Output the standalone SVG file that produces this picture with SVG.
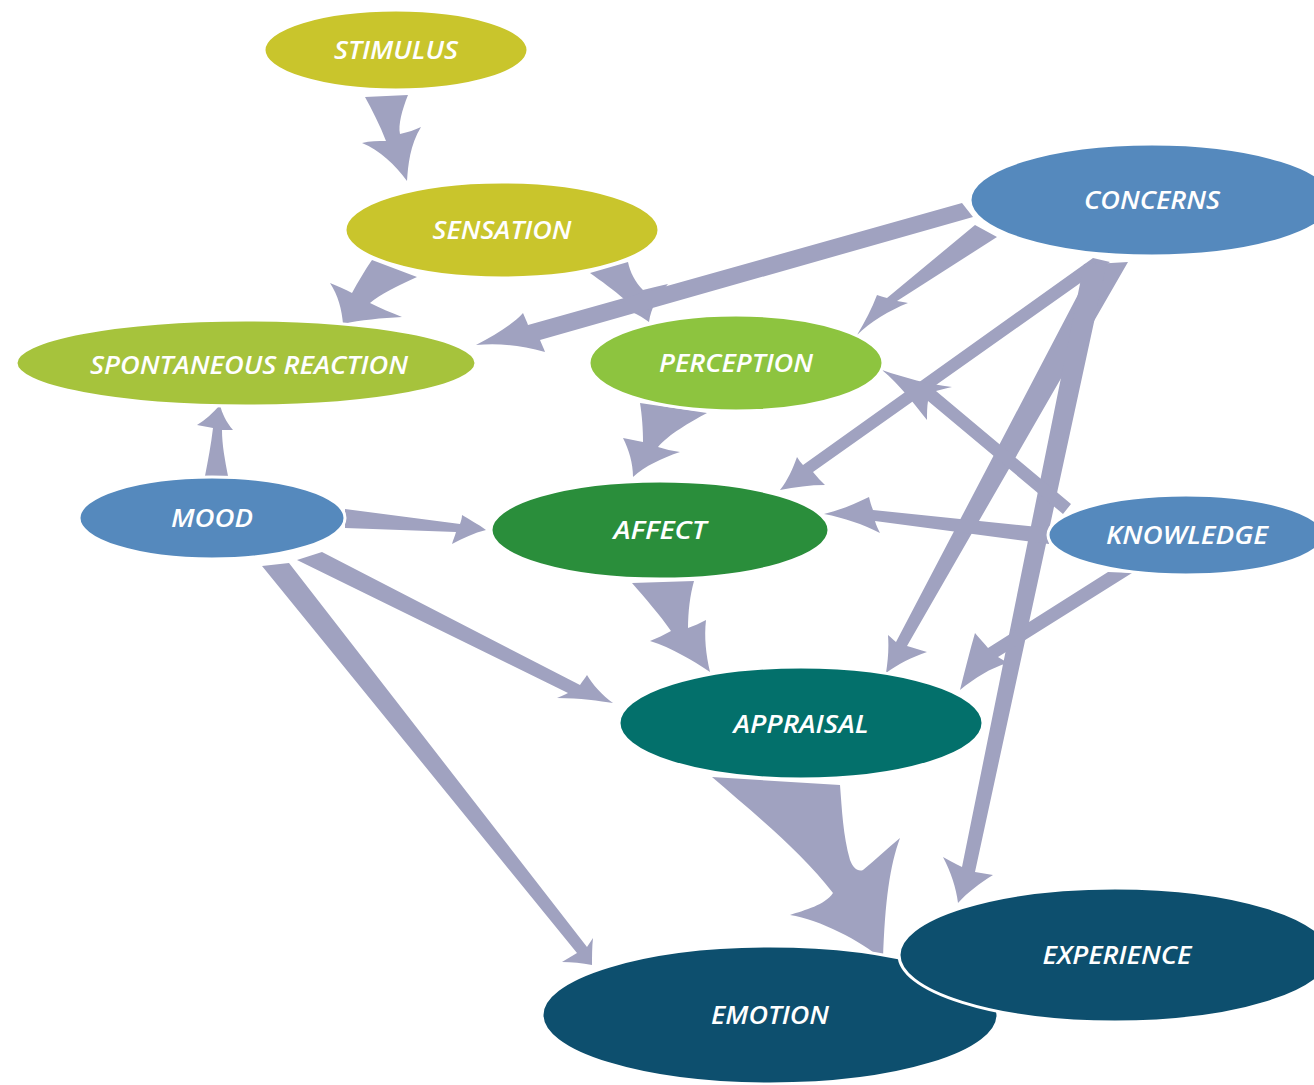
<svg xmlns="http://www.w3.org/2000/svg" width="1314" height="1085" viewBox="0 0 1314 1085">
<style>
.a{fill:#a0a2c0;stroke:none}
.n{stroke:#ffffff;stroke-width:3}
.t{fill:#ffffff;font-family:"Open Sans","Liberation Sans",sans-serif;font-style:italic;font-weight:600;font-size:26px;text-anchor:middle}
.y{fill:#c9c52c}.g1{fill:#a6c33c}.g2{fill:#8dc43f}.b{fill:#5589bd}.g3{fill:#2a8e3b}.tl{fill:#03706b}.d{fill:#0d4f6e}
</style>
<rect width="1314" height="1085" fill="#ffffff"/>
<g id="connectors">
<path class="a" d="M365,97 L408,95 C402,110 398,125 400,134 C408,132 415,130 421,127 C410,145 408,165 407,181 C395,165 380,150 362,143 C370,141 378,141 386,141 C380,125 372,110 365,97 Z"/>
<path class="a" d="M372,260 L417,277 C398,286 380,294 370,303 C380,308 392,313 402,317 C382,318 360,320 343,324 C342,310 338,295 330,283 C338,286 346,290 352,293 C358,282 365,270 372,260 Z"/>
<path class="a" d="M590,273 L628,262 C630,272 635,282 643,290 C651,288 659,286 668,284 C658,295 651,308 649,322 C640,315 625,308 610,305 C614,303 619,301 624,299 C614,290 601,281 590,273 Z"/>
<path class="a" d="M962,203 L973,217 L540,340 C542,345 544,349 545,352 C520,345 498,343 476,345 C495,335 512,325 523,313 C525,318 527,322 528,325 Z"/>
<path class="a" d="M975,225 L997,237 L897,301 C901,302 905,302 908,303 C890,310 870,322 857,335 C865,322 872,308 877,295 C880,296 883,297 887,298 Z"/>
<path class="a" d="M1093,258 L1110,262 L813,472 C817,477 821,481 825,485 C810,485 795,487 780,490 C788,480 793,468 797,457 C799,460 801,463 803,465 Z"/>
<path class="a" d="M1094,264 L1128,262 L907,646 C914,648 920,650 927,652 C912,657 898,664 886,673 C888,660 889,648 888,635 C891,637 893,640 896,642 Z"/>
<path class="a" d="M1084,264 L1107,262 L975,872 C981,873 987,874 993,875 C980,883 968,892 958,903 C956,888 951,872 943,857 C949,860 955,864 962,867 Z"/>
<path class="a" d="M882,370 C905,378 928,384 952,387 C946,388 941,390 936,391 L1071,504 L1063,514 L928,401 C927,407 927,413 927,420 C915,405 900,385 882,370 Z"/>
<path class="a" d="M1048,528 L1049,544 L875,521 C876,525 878,529 880,533 C862,524 845,518 824,514 C840,510 855,504 869,497 C870,501 871,505 873,510 Z"/>
<path class="a" d="M1108,572 L1132,573 L998,657 C1001,659 1005,661 1008,663 C990,668 975,678 960,690 C965,670 970,650 975,633 C979,638 984,643 988,648 Z"/>
<path class="a" d="M205,476 L228,476 C225,460 222,445 222,430 C226,430 230,430 233,430 C226,422 222,413 220,405 C213,413 205,420 197,425 C202,426 208,427 213,428 C211,445 208,460 205,476 Z"/>
<path class="a" d="M345,509 L345,528 L456,532 C455,536 453,540 452,544 C463,538 474,533 486,530 C478,524 470,520 462,515 C462,518 461,521 460,524 Z"/>
<path class="a" d="M297,560 L322,552 L580,685 C582,682 585,678 587,675 C593,685 602,695 613,703 C600,701 580,698 557,698 C561,696 565,695 568,693 Z"/>
<path class="a" d="M262,566 L289,563 L587,947 C589,944 591,941 593,938 C592,947 592,956 592,965 C582,963 572,962 562,962 C567,959 572,956 577,953 Z"/>
<path class="a" d="M640,403 L707,413 C690,422 668,435 658,447 C665,449 672,451 680,452 C662,458 645,466 633,477 C633,463 629,450 623,438 C630,439 636,441 643,442 C643,430 642,415 640,403 Z"/>
<path class="a" d="M632,583 L694,581 C690,595 688,612 688,628 C694,626 700,623 706,620 C704,637 706,655 710,672 C692,660 672,648 650,641 C657,638 664,635 671,631 C660,615 645,598 632,583 Z"/>
<path class="a" d="M712,777 L840,785 C842,810 843,835 850,860 C853,868 858,872 863,870 C875,860 888,848 900,838 C890,865 885,900 883,960 C860,940 820,920 790,915 C805,910 825,905 833,893 C800,850 750,810 712,777 Z"/>
</g>
<g id="stimulus"><ellipse class="n y" cx="396" cy="50" rx="132" ry="40"/><text class="t" x="396" y="59" textLength="124" lengthAdjust="spacingAndGlyphs">STIMULUS</text></g>
<g id="sensation"><ellipse class="n y" cx="502" cy="230" rx="157" ry="48"/><text class="t" x="502" y="239" textLength="139" lengthAdjust="spacingAndGlyphs">SENSATION</text></g>
<g id="spontaneous-reaction"><ellipse class="n g1" cx="246" cy="363" rx="230" ry="43"/><text class="t" x="249" y="374" textLength="318" lengthAdjust="spacingAndGlyphs">SPONTANEOUS REACTION</text></g>
<g id="perception"><ellipse class="n g2" cx="736" cy="363" rx="147" ry="48"/><text class="t" x="736" y="372" textLength="154" lengthAdjust="spacingAndGlyphs">PERCEPTION</text></g>
<g id="concerns"><ellipse class="n b" cx="1152" cy="200" rx="182" ry="56"/><text class="t" x="1152" y="209" textLength="136" lengthAdjust="spacingAndGlyphs">CONCERNS</text></g>
<g id="mood"><ellipse class="n b" cx="212" cy="518" rx="133" ry="41"/><text class="t" x="212" y="527" textLength="82" lengthAdjust="spacingAndGlyphs">MOOD</text></g>
<g id="affect"><ellipse class="n g3" cx="660" cy="530" rx="169" ry="49"/><text class="t" x="660" y="539" textLength="93" lengthAdjust="spacingAndGlyphs">AFFECT</text></g>
<g id="knowledge"><ellipse class="n b" cx="1186" cy="535" rx="138" ry="40"/><text class="t" x="1187" y="544" textLength="162" lengthAdjust="spacingAndGlyphs">KNOWLEDGE</text></g>
<g id="appraisal"><ellipse class="n tl" cx="801" cy="723" rx="182" ry="56"/><text class="t" x="801" y="733" textLength="135" lengthAdjust="spacingAndGlyphs">APPRAISAL</text></g>
<g id="emotion"><ellipse class="n d" cx="770" cy="1015" rx="228" ry="69"/><text class="t" x="770" y="1024" textLength="118" lengthAdjust="spacingAndGlyphs">EMOTION</text></g>
<g id="experience"><ellipse class="n d" cx="1115" cy="955" rx="216" ry="67"/><text class="t" x="1117" y="964" textLength="149" lengthAdjust="spacingAndGlyphs">EXPERIENCE</text></g>
</svg>
